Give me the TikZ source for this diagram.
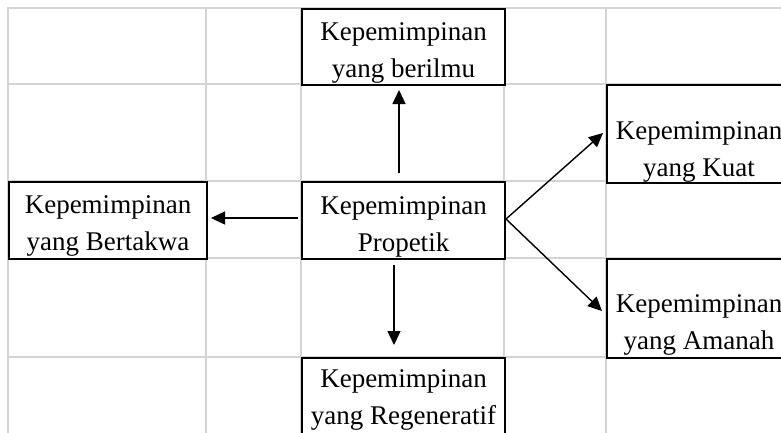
\documentclass[tikz,border=0pt]{standalone}
\usepackage{fontspec}
\setmainfont{Liberation Serif}
\usetikzlibrary{arrows.meta}
\definecolor{gridgray}{HTML}{D4D4D4}
\begin{document}
\begin{tikzpicture}[x=1pt,y=-1pt,
  gridline/.style={draw=gridgray, line width=1.8pt},
  cellbox/.style={draw=black, line width=2pt, fill=white, rectangle, inner sep=0pt, anchor=north west},
  celltext/.style={font=\fontsize{27}{37}\selectfont, align=center, inner sep=0pt, anchor=south},
  arr/.style={-{Triangle[length=14pt,width=13pt]}, line width=1.4pt}]
\useasboundingbox (0,0) rectangle (781,432);
\clip (0,0) rectangle (781,432);
% spreadsheet grid
\foreach \gx in {8,206,301,504,606} \draw[gridline] (\gx,7) -- (\gx,440);
\foreach \gy in {8,84,181,258,357} \draw[gridline] (7,\gy) -- (790,\gy);
% boxes
\node[cellbox, minimum width=203pt, minimum height=76pt] (ber)  at (301,8)   {};
\node[cellbox, minimum width=198pt, minimum height=77pt] (bert) at (8,181)   {};
\node[cellbox, minimum width=203pt, minimum height=77pt] (prop) at (301,181) {};
\node[cellbox, minimum width=184pt, minimum height=98pt] (kuat) at (606,84)  {};
\node[cellbox, minimum width=184pt, minimum height=99pt] (aman) at (606,258) {};
\node[cellbox, minimum width=203pt, minimum height=80pt] (reg)  at (301,357) {};
% texts
\node[celltext] (berT)  at ([yshift=2pt]ber.south)  {Kepemimpinan\\yang berilmu};
\node[celltext] (bertT) at ([yshift=3pt]bert.south) {Kepemimpinan\\yang Bertakwa};
\node[celltext] (propT) at ([yshift=3pt]prop.south) {Kepemimpinan\\Propetik};
\node[celltext] (kuatT) at ([yshift=1pt]kuat.south) {Kepemimpinan\\yang Kuat};
\node[celltext] (amanT) at ([yshift=3pt]aman.south) {Kepemimpinan\\yang Amanah};
\node[celltext] (regT)  at ([yshift=8.5pt]reg.south) {Kepemimpinan\\yang Regeneratif};
% arrows
\draw[arr] ([xshift=-4.5pt,yshift=8pt]prop.north) -- ([xshift=-4.5pt,yshift=-4pt]ber.south);
\draw[arr] ([xshift=-3pt,yshift=2.5pt]prop.west) -- ([xshift=3pt,yshift=2.5pt]bert.east);
\draw[arr] ([xshift=-9.5pt,yshift=-5pt]prop.south) -- ([xshift=-9.5pt,yshift=12pt]reg.north);
\draw[arr] ([yshift=1.5pt]prop.east) -- ([xshift=-3pt,yshift=1pt]kuat.west);
\draw[arr] ([yshift=1.5pt]prop.east) -- ([xshift=-4pt,yshift=-2.5pt]aman.west);
\end{tikzpicture}
\end{document}
